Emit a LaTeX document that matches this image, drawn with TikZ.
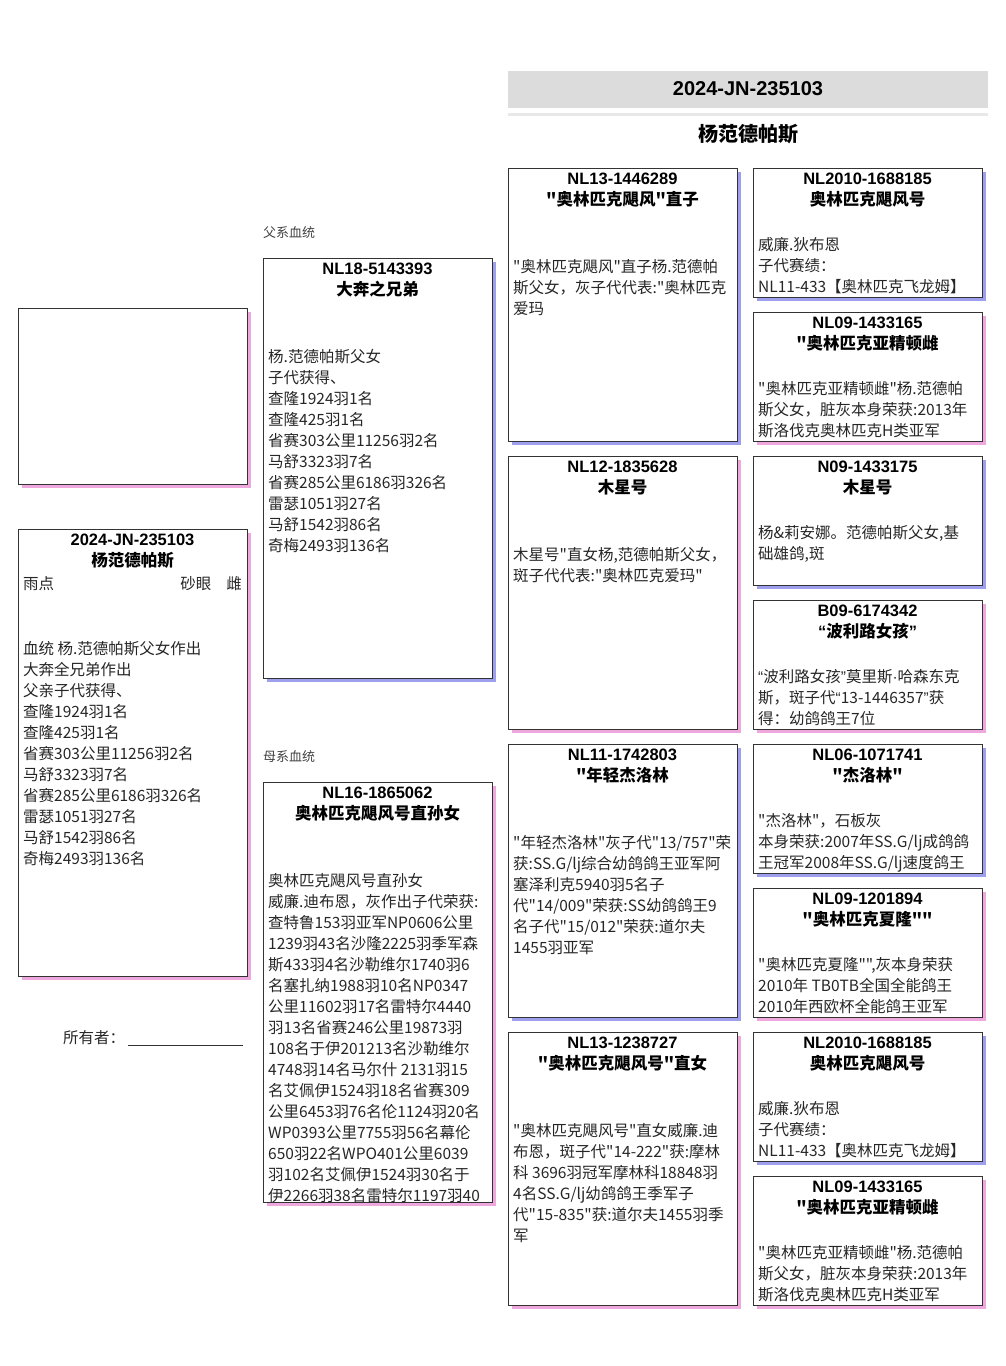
\documentclass[tikz,border=0pt]{standalone}
\usepackage{fontspec}
\setmainfont{Noto Sans CJK SC}[Ligatures=TeXOff]
\newfontfamily\latf{Liberation Sans}[Ligatures=TeXOff]
\usepackage{tikz}
\usetikzlibrary{positioning, shadows}
\definecolor{bshd}{RGB}{158,160,238}
\definecolor{pshd}{RGB}{238,168,222}
\definecolor{hdrgray}{RGB}{220,220,220}

\begin{document}
\begin{tikzpicture}[x=1pt, y=-1pt,
    pbox/.style={draw=black!80, line width=0.8pt, fill=white, minimum width=229pt,
                 inner sep=0pt, outer sep=0pt, anchor=north west},
    bsh/.style={pbox, drop shadow={shadow xshift=4pt, shadow yshift=-4pt, fill=bshd, opacity=1}},
    psh/.style={pbox, drop shadow={shadow xshift=4pt, shadow yshift=-4pt, fill=pshd, opacity=1}},
    tall/.style={minimum height=273pt},
    small/.style={minimum height=129pt},
    ttl/.style={align=center, inner sep=0pt, anchor=north, font=\fontsize{16.5}{21}\selectfont\bfseries},
    txt/.style={align=left, inner sep=0pt, anchor=north west, text=black!85,
                font=\fontsize{15.5}{21}\selectfont},
    sect/.style={anchor=west, inner sep=0pt, text=black!75, font=\fontsize{13}{16}\selectfont}]
  \useasboundingbox (0,0) rectangle (1006,1366);

  % header
  \node[fill=hdrgray, minimum width=480pt, minimum height=37pt, inner sep=0pt,
        font=\latf\fontsize{20}{24}\selectfont\bfseries] (hdr) at (748,89) {2024-JN-235103};
  \node[fill=gray!18, minimum width=480pt, minimum height=3pt, inner sep=0pt, below=5pt of hdr] (hdrrule) {};
  \node[font=\fontsize{20}{24}\selectfont\bfseries] (pname) at (748,134) {杨范德帕斯};

  % photo and bird
  \node[psh, minimum height=176pt] (photo) at (18,308) {};
  \node[psh, minimum height=447pt] (subj) at (18,529) {};
  \node[ttl, below=5pt of subj.north] (subj-t) {{\latf 2024-JN-235103}\\杨范德帕斯};
  \node[txt, below right=47pt and 5pt of subj.north west] (subj-col) {雨点};
  \node[txt, anchor=north east, below left=47pt and 5pt of subj.north east] (subj-sex) {砂眼\hspace{15pt}雌};
  \node[txt, below right=112pt and 5pt of subj.north west] (subj-b) {血统 杨.范德帕斯父女作出\\大奔全兄弟作出\\父亲子代获得、\\查隆1924羽1名\\查隆425羽1名\\省赛303公里11256羽2名\\马舒3323羽7名\\省赛285公里6186羽326名\\雷瑟1051羽27名\\马舒1542羽86名\\奇梅2493羽136名};
  \node[txt, anchor=west] (own) at (63,1038) {所有者：};
  \coordinate (ownend) at (243,1045);
  \draw[black!80, line width=0.8pt] (own.east |- ownend) ++(3,0) -- (ownend);

  % parents
  \node[sect] (patlbl) at (263,233) {父系血统};
  \node[bsh, minimum height=420pt] (sire) at (263,258) {};
  \node[ttl, below=5pt of sire.north] (sire-t) {{\latf NL18-5143393}\\大奔之兄弟};
  \node[txt, below right=91pt and 5pt of sire.north west] (sire-b) {杨.范德帕斯父女\\子代获得、\\查隆1924羽1名\\查隆425羽1名\\省赛303公里11256羽2名\\马舒3323羽7名\\省赛285公里6186羽326名\\雷瑟1051羽27名\\马舒1542羽86名\\奇梅2493羽136名};

  \node[sect] (matlbl) at (263,757) {母系血统};
  \node[psh, minimum height=420pt] (dam) at (263,782) {};
  \node[ttl, below=5pt of dam.north] (dam-t) {{\latf NL16-1865062}\\奥林匹克飓风号直孙女};
  \node[txt, below right=91pt and 5pt of dam.north west] (dam-b) {奥林匹克飓风号直孙女\\威廉.迪布恩，灰作出子代荣获:\\查特鲁153羽亚军NP0606公里\\1239羽43名沙隆2225羽季军森\\斯433羽4名沙勒维尔1740羽6\\名塞扎纳1988羽10名NP0347\\公里11602羽17名雷特尔4440\\羽13名省赛246公里19873羽\\108名于伊201213名沙勒维尔\\4748羽14名马尔什 2131羽15\\名艾佩伊1524羽18名省赛309\\公里6453羽76名伦1124羽20名\\WP0393公里7755羽56名幕伦\\650羽22名WPO401公里6039\\羽102名艾佩伊1524羽30名于\\伊2266羽38名雷特尔1197羽40};

  % grandparents
  \node[bsh, tall] (ss) at (508,168) {};
  \node[ttl, below=5pt of ss.north] (ss-t) {{\latf NL13-1446289}\\"奥林匹克飓风"直子};
  \node[txt, below right=91pt and 5pt of ss.north west] (ss-b) {"奥林匹克飓风"直子杨.范德帕\\斯父女，灰子代代表:"奥林匹克\\爱玛};

  \node[psh, tall, below=15pt of ss] (sd) {};
  \node[ttl, below=5pt of sd.north] (sd-t) {{\latf NL12-1835628}\\木星号};
  \node[txt, below right=91pt and 5pt of sd.north west] (sd-b) {木星号"直女杨,范德帕斯父女，\\斑子代代表:"奥林匹克爱玛"};

  \node[bsh, tall, below=15pt of sd] (ds) {};
  \node[ttl, below=5pt of ds.north] (ds-t) {{\latf NL11-1742803}\\"年轻杰洛林};
  \node[txt, below right=91pt and 5pt of ds.north west] (ds-b) {"年轻杰洛林"灰子代"13/757"荣\\获:SS.G/lj综合幼鸽鸽王亚军阿\\塞泽利克5940羽5名子\\代"14/009"荣获:SS幼鸽鸽王9\\名子代"15/012"荣获:道尔夫\\1455羽亚军};

  \node[psh, tall, below=15pt of ds] (dd) {};
  \node[ttl, below=5pt of dd.north] (dd-t) {{\latf NL13-1238727}\\"奥林匹克飓风号"直女};
  \node[txt, below right=91pt and 5pt of dd.north west] (dd-b) {"奥林匹克飓风号"直女威廉.迪\\布恩，斑子代"14-222"获:摩林\\科 3696羽冠军摩林科18848羽\\4名SS.G/lj幼鸽鸽王季军子\\代"15-835"获:道尔夫1455羽季\\军};

  % great-grandparents
  \node[bsh, small] (sss) at (753,168) {};
  \node[ttl, below=5pt of sss.north] (sss-t) {{\latf NL2010-1688185}\\奥林匹克飓风号};
  \node[txt, below right=69pt and 5pt of sss.north west] (sss-b) {威廉.狄布恩\\子代赛绩：\\NL11-433【奥林匹克飞龙姆】};

  \node[psh, small, below=15pt of sss] (ssd) {};
  \node[ttl, below=5pt of ssd.north] (ssd-t) {{\latf NL09-1433165}\\"奥林匹克亚精顿雌};
  \node[txt, below right=69pt and 5pt of ssd.north west] (ssd-b) {"奥林匹克亚精顿雌"杨.范德帕\\斯父女，脏灰本身荣获:2013年\\斯洛伐克奥林匹克H类亚军};

  \node[bsh, small, below=15pt of ssd] (sds) {};
  \node[ttl, below=5pt of sds.north] (sds-t) {{\latf N09-1433175}\\木星号};
  \node[txt, below right=69pt and 5pt of sds.north west] (sds-b) {杨\&莉安娜。范德帕斯父女,基\\础雄鸽,斑};

  \node[psh, small, below=15pt of sds] (sdd) {};
  \node[ttl, below=5pt of sdd.north] (sdd-t) {{\latf B09-6174342}\\{\latf “}波利路女孩{\latf ”}};
  \node[txt, below right=69pt and 5pt of sdd.north west] (sdd-b) {{\latf “}波利路女孩{\latf ”}莫里斯{\latf ·}哈森东克\\斯，斑子代{\latf “}13-1446357{\latf ”}获\\得：幼鸽鸽王7位};

  \node[bsh, small, below=15pt of sdd] (dss) {};
  \node[ttl, below=5pt of dss.north] (dss-t) {{\latf NL06-1071741}\\"杰洛林"};
  \node[txt, below right=69pt and 5pt of dss.north west] (dss-b) {"杰洛林"，石板灰\\本身荣获:2007年SS.G/lj成鸽鸽\\王冠军2008年SS.G/lj速度鸽王};

  \node[psh, small, below=15pt of dss] (dsd) {};
  \node[ttl, below=5pt of dsd.north] (dsd-t) {{\latf NL09-1201894}\\"奥林匹克夏隆""};
  \node[txt, below right=69pt and 5pt of dsd.north west] (dsd-b) {"奥林匹克夏隆"",灰本身荣获\\2010年 TB0TB全国全能鸽王\\2010年西欧杯全能鸽王亚军};

  \node[bsh, small, below=15pt of dsd] (dds) {};
  \node[ttl, below=5pt of dds.north] (dds-t) {{\latf NL2010-1688185}\\奥林匹克飓风号};
  \node[txt, below right=69pt and 5pt of dds.north west] (dds-b) {威廉.狄布恩\\子代赛绩：\\NL11-433【奥林匹克飞龙姆】};

  \node[psh, small, below=15pt of dds] (ddd) {};
  \node[ttl, below=5pt of ddd.north] (ddd-t) {{\latf NL09-1433165}\\"奥林匹克亚精顿雌};
  \node[txt, below right=69pt and 5pt of ddd.north west] (ddd-b) {"奥林匹克亚精顿雌"杨.范德帕\\斯父女，脏灰本身荣获:2013年\\斯洛伐克奥林匹克H类亚军};
\end{tikzpicture}
\end{document}
